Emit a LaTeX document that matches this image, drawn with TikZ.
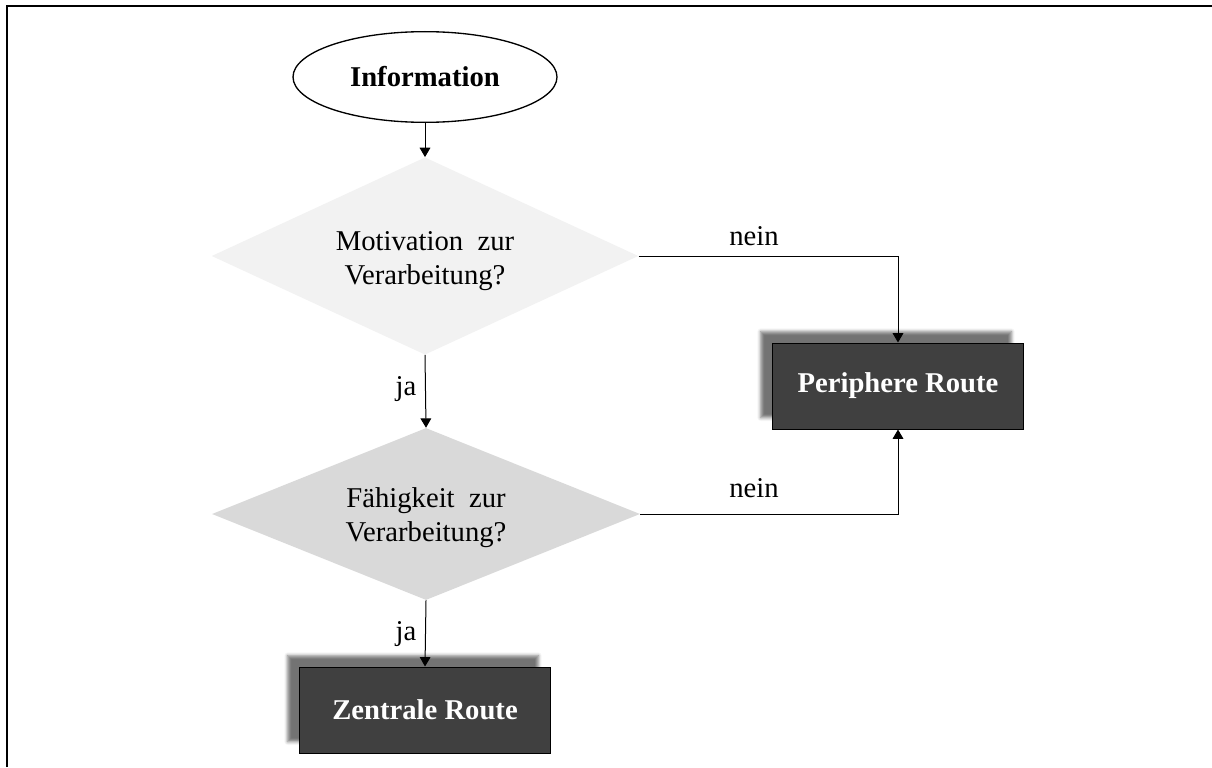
\documentclass[tikz,border=0pt]{standalone}
\usepackage{fontspec}
\setmainfont{Liberation Serif}
\usetikzlibrary{shapes.geometric,arrows.meta,shadows.blur}

\definecolor{lightdia}{HTML}{F2F2F2}
\definecolor{middia}{HTML}{D9D9D9}
\definecolor{routefill}{HTML}{404040}

\tikzset{
  txt/.style={font=\fontsize{21.5pt}{25.5pt}\selectfont},
  startnode/.style={ellipse, draw=black, line width=1pt, fill=white,
    minimum width=198pt, minimum height=68pt, inner sep=0pt,
    font=\fontsize{21.5pt}{25.5pt}\selectfont\bfseries},
  decision/.style={diamond, aspect=2.2, draw=none, inner sep=0pt},
  question/.style={txt, align=center, inner sep=0pt},
  routebox/.style={rectangle, draw=black, line width=0.75pt, fill=routefill,
    text=white, minimum width=188pt, minimum height=64.5pt, inner sep=0pt,
    font=\fontsize{21.5pt}{25.5pt}\selectfont\bfseries,
    blur shadow={shadow xshift=-9pt, shadow yshift=8.5pt,
      shadow blur radius=2.5pt, shadow opacity=55}},
  flow/.style={line width=0.75pt, -{Triangle[width=8pt,length=7pt]}},
  lbl/.style={txt, anchor=base, inner sep=0pt}
}

\begin{document}
\begin{tikzpicture}[x=0.75pt, y=-0.75pt]
  \useasboundingbox (0,0) rectangle (1212,767);

  % outer frame (left and top edges)
  \draw[line width=1.5pt] (6.5,767) -- (6.5,6.5) -- (1212,6.5);

  % nodes
  \node[startnode] (info) at (425,77) {Information};
  \node[decision, fill=lightdia, minimum width=320pt, minimum height=148pt]
    (motiv) at (425,256) {};
  \node[question] (motivtext) at ([yshift=-4pt]motiv.center)
    {Motivation\ \ zur\\Verarbeitung?};
  \node[decision, fill=middia, minimum width=321pt, minimum height=129pt]
    (faehig) at (426,514) {};
  \node[question] (faehigtext) at ([yshift=-3pt]faehig.center)
    {Fähigkeit\ \ zur\\Verarbeitung?};
  \node[routebox] (peri) at (898,386) {Periphere Route};
  \node[routebox] (zent) at (425,710) {Zentrale Route};

  % connectors
  \draw[flow] (info.south) -- (motiv.north);
  \draw[flow] (motiv.south) -- (faehig.north);
  \draw[flow] (faehig.south) -- (zent.north);
  \draw[flow] (motiv.east) -| (peri.north);
  \draw[flow] (faehig.east) -| (peri.south);

  % branch labels
  \node[lbl] (n1) at (754,245) {nein};
  \node[lbl] (n2) at (754,497) {nein};
  \node[lbl] (j1) at (406,395) {ja};
  \node[lbl] (j2) at (406,640) {ja};
\end{tikzpicture}
\end{document}
